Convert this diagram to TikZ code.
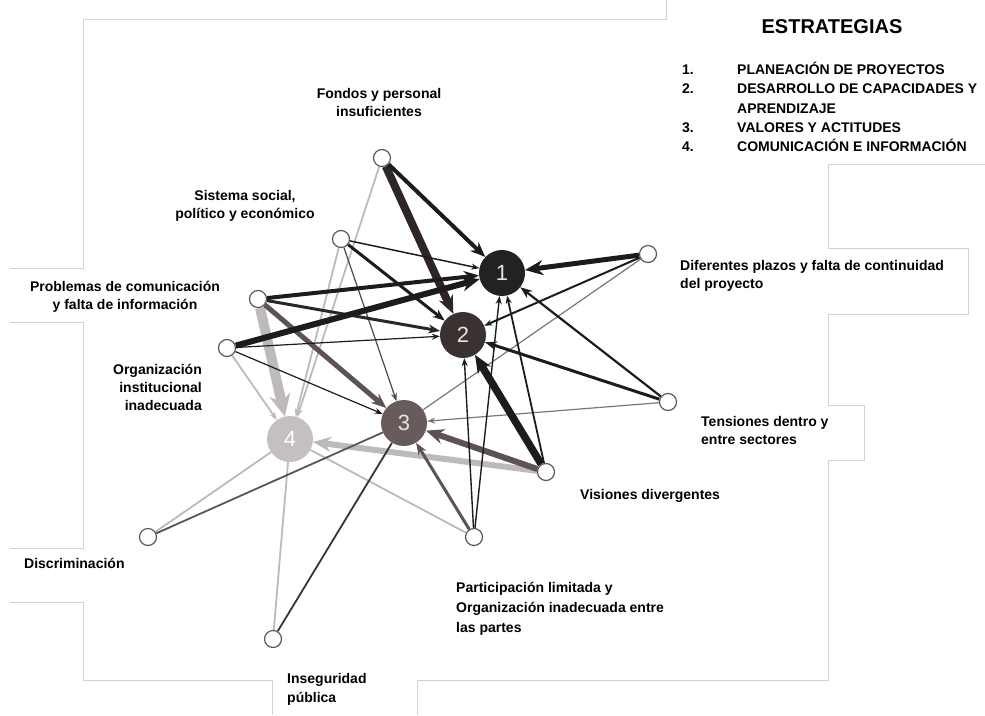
\documentclass[tikz,border=0pt]{standalone}
\usepackage{fontspec}
\setmainfont{Liberation Sans}
\usetikzlibrary{arrows.meta}
\definecolor{cA}{HTML}{1C1C1C}
\definecolor{cB}{HTML}{2D2625}
\definecolor{cC}{HTML}{5E5353}
\definecolor{cD}{HTML}{BDBAB9}
\definecolor{hubA}{HTML}{222222}
\definecolor{hubB}{HTML}{3A3230}
\definecolor{hubC}{HTML}{675C5B}
\definecolor{hubD}{HTML}{C4C0C0}
\definecolor{frameC}{HTML}{D2D2D2}
\definecolor{ringC}{HTML}{5A5A5A}
\pgfdeclarelayer{bg}
\pgfsetlayers{bg,main}
\tikzset{
  hub/.style={circle, minimum size=46pt, inner sep=0pt, text=white!90!black,
    font=\fontsize{22}{22}\selectfont},
  leaf/.style={circle, draw=ringC, line width=1.2pt, fill=white, minimum size=17pt, inner sep=0pt},
  lbl/.style={inner sep=0pt, font=\fontsize{14}{18}\selectfont\bfseries},
  wa/.style={line width=1.2pt, -{Stealth[length=8pt,width=6pt]}},
  wb/.style={line width=2.5pt, -{Stealth[length=12pt,width=9pt]}},
  wc/.style={line width=4pt, -{Stealth[length=15pt,width=12pt]}},
  wd/.style={line width=6pt, -{Stealth[length=18pt,width=15pt]}},
  we/.style={line width=10pt, -{Stealth[length=22pt,width=21pt]}},
  framel/.style={draw=frameC, line width=0.8pt}
}
\begin{document}
\begin{tikzpicture}[x=1pt,y=-1pt]
\useasboundingbox (0,0) rectangle (985,715);

% frame
\draw[framel] (666,0) -- (666,19) -- (83,19) -- (83,268) -- (10,268);
\draw[framel] (10,322) -- (83,322) -- (83,548) -- (10,548);
\draw[framel] (10,602) -- (83,602) -- (83,680) -- (272,680) -- (272,715);
\draw[framel] (417,715) -- (417,680) -- (828,680) -- (828,460) -- (864,460) -- (864,405)
  -- (828,405) -- (828,314) -- (968,314) -- (968,248) -- (828,248) -- (828,164) -- (985,164);

% hubs
\node[hub, fill=hubA] (h1) at (502,273) {1};
\node[hub, fill=hubB] (h2) at (463,335) {2};
\node[hub, fill=hubC] (h3) at (404,423) {3};
\node[hub, fill=hubD, text=white] (h4) at (290,439) {4};

% leaves
\node[leaf] (F) at (382,158) {};
\node[leaf] (S) at (341,239) {};
\node[leaf] (P) at (258,299) {};
\node[leaf] (O) at (227,348) {};
\node[leaf] (D) at (648,254) {};
\node[leaf] (T) at (668,402) {};
\node[leaf] (V) at (546,472) {};
\node[leaf] (PL) at (474,537) {};
\node[leaf] (Di) at (148,537) {};
\node[leaf] (I) at (273,639) {};

\begin{pgfonlayer}{bg}
\fill[white] (0,0) rectangle (985,715);
% to 4 (light grey)
\draw[wa, cD, line width=1.8pt] (F) -- (h4);
\draw[wa, cD, line width=1.8pt] (S) -- (h4);
\draw[we, cD] (P) -- (h4);
\draw[wa, cD, line width=1.8pt] (O) -- (h4);
\draw[wd, cD] (V) -- (h4);
\draw[cD, line width=1.8pt] (PL) -- (h4);
\draw[cD, line width=1.8pt] (Di) -- (h4);
\draw[cD, line width=1.8pt] (I) -- (h4);
% to 3
\draw[wa, cA!80] (S) -- (h3);
\draw[wc, cC, line width=5pt] (P) -- (h3);
\draw[wa, cA] (O) -- (h3);
\draw[cC!80, line width=1.2pt] (D) -- (h3);
\draw[wa, cC!80] (T) -- (h3);
\draw[wd, cC] (V) -- (h3);
\draw[wb, cC, line width=3pt] (PL) -- (h3);
\draw[cC, line width=1.8pt] (Di) -- (h3);
\draw[cC!120, line width=1.8pt] (I) -- (h3);
% to 2
\draw[wd, cB, line width=8pt] (F) -- (h2);
\draw[wb, cA, line width=3pt] (S) -- (h2);
\draw[wb, cB, line width=3pt] (P) -- (h2);
\draw[wa, cA] (O) -- (h2);
\draw[wa, cA, line width=2pt] (D) -- (h2);
\draw[wb, cA, line width=3pt] (T) -- (h2);
\draw[wd, cA, line width=7.5pt] (V) -- (h2);
\draw[wa, cA, line width=1.4pt] (PL) -- (h2);
% to 1
\draw[wc, cA] (F) -- (h1);
\draw[wa, cA, line width=1.5pt] (S) -- (h1);
\draw[wc, cA] (P) -- (h1);
\draw[wd, cA] (O) -- (h1);
\draw[wd, cA, line width=5pt] (D) -- (h1);
\draw[wb, cA, line width=2.2pt] (T) -- (h1);
\draw[wa, cA, line width=1.8pt] (V) -- (h1);
\draw[wa, cA, line width=1.4pt] (PL) -- (h1);
\end{pgfonlayer}

% labels
\node[lbl, align=center, anchor=north] (lF) at (379,88) {Fondos y personal\\insuficientes};
\node[lbl, align=center, anchor=north] (lS) at (245,190) {Sistema social,\\político y económico};
\node[lbl, align=center, anchor=north] (lP) at (125,281) {Problemas de comunicación\\y falta de información};
\node[lbl, align=right, anchor=north east] (lO) at (202,364) {Organización\\institucional\\inadecuada};
\node[lbl, align=left, anchor=north west] (lD) at (680,260) {Diferentes plazos y falta de continuidad\\del proyecto};
\node[lbl, align=left, anchor=north west] (lT) at (701,416) {Tensiones dentro y\\entre sectores};
\node[lbl, anchor=north west] (lV) at (580,489) {Visiones divergentes};
\node[lbl, anchor=north west] (lDi) at (24,558) {Discriminación};
\node[lbl, align=left, anchor=north west, font=\fontsize{14}{20}\selectfont\bfseries] (lPL) at (456,582) {Participación limitada y\\Organización inadecuada entre\\las partes};
\node[lbl, align=left, anchor=north west, font=\fontsize{14}{19}\selectfont\bfseries] (lI) at (287,673) {Inseguridad\\pública};

% legend
\node[inner sep=0pt, anchor=north, font=\fontsize{20}{20}\selectfont\bfseries] (title) at (832,19) {ESTRATEGIAS};
\node[inner sep=0pt, anchor=north west, align=left, font=\fontsize{14}{19.3}\selectfont\bfseries] (legend) at (682,62)
 {\makebox[55pt][l]{1.}PLANEACIÓN DE PROYECTOS\\
  \makebox[55pt][l]{2.}DESARROLLO DE CAPACIDADES Y\\
  \hspace*{55pt}APRENDIZAJE\\
  \makebox[55pt][l]{3.}VALORES Y ACTITUDES\\
  \makebox[55pt][l]{4.}COMUNICACIÓN E INFORMACIÓN};
\end{tikzpicture}
\end{document}
